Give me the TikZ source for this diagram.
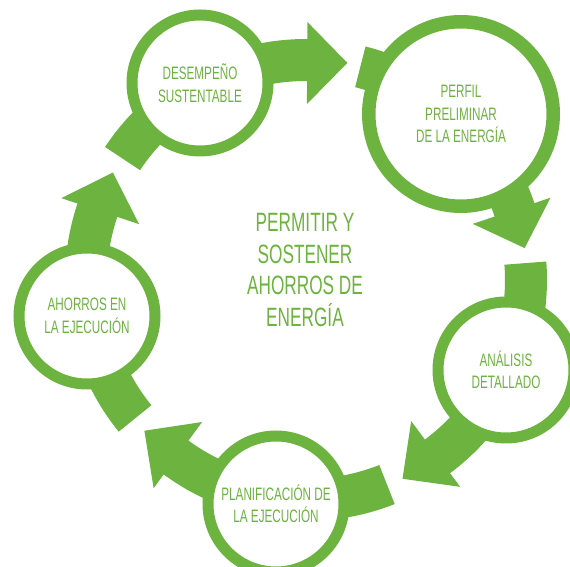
\documentclass[tikz,border=0pt]{standalone}
\usepackage{fontspec}
\setmainfont{Liberation Sans}[FakeStretch=0.65]
\usetikzlibrary{calc}
\definecolor{leafgreen}{RGB}{109,179,63}

\begin{document}
\begin{tikzpicture}[x=1pt, y=1pt]
    \tikzstyle{stage} = [circle, draw=leafgreen, fill=white, line width=11pt,
        minimum size=136pt, inner sep=0pt, text=leafgreen, align=center,
        font=\fontsize{18}{22.5}\selectfont]
    \tikzstyle{bigstage} = [stage, line width=13.5pt, minimum size=184.5pt]
    \tikzstyle{band} = [fill=leafgreen]

    \useasboundingbox (0, 0) rectangle (570, 567);
    \clip (0, 0) rectangle (570, 567);

    \coordinate (hub) at (306, 287);

    % Arrows round the hub ------------------------------
    \begin{scope}[shift={(hub)}]
        \fill[band] (146.5:241) arc[start angle=146.5, end angle=89.7, radius=241]
            -- (89.7:258) -- (79.2:221) -- (89.7:176) -- (89.7:199)
            arc[start angle=89.7, end angle=146.5, radius=199] -- cycle;
        \fill[band] (75.7:241) arc[start angle=75.7, end angle=18.6, radius=241]
            -- (18.6:258) -- (8.3:221) -- (18.6:176) -- (18.6:199)
            arc[start angle=18.6, end angle=75.7, radius=199] -- cycle;
        \fill[band] (4.4:241) arc[start angle=4.4, end angle=-53.3, radius=241]
            -- (-53.3:258) -- (-64.1:221) -- (-53.3:176) -- (-53.3:199)
            arc[start angle=-53.3, end angle=4.4, radius=199] -- cycle;
        \fill[band] (-68.4:241) arc[start angle=-68.4, end angle=-126.2, radius=241]
            -- (-126.2:258) -- (-137:221) -- (-126.2:176) -- (-126.2:199)
            arc[start angle=-126.2, end angle=-68.4, radius=199] -- cycle;
        \fill[band] (219:241) arc[start angle=219, end angle=161.5, radius=241]
            -- (161.5:258) -- (150.9:221) -- (161.5:176) -- (161.5:199)
            arc[start angle=161.5, end angle=219, radius=199] -- cycle;
    \end{scope}
    % ---------------------------------------------------

    % Stages
    \node (desempeno) at (200, 484) [stage] {DESEMPEÑO\\SUSTENTABLE};
    \node (perfil) at (461, 453) [bigstage] {PERFIL\\PRELIMINAR\\DE LA ENERGÍA};
    \node (analisis) at (506, 197) [stage] {ANÁLISIS\\DETALLADO};
    \node (planif) at (276, 63) [stage] {PLANIFICACIÓN DE\\LA EJECUCIÓN};
    \node (ahorros) at (87, 251) [stage] {AHORROS EN\\LA EJECUCIÓN};

    % Goal in the middle
    \node (goal) at ($(hub) + (-1, 10)$) [text=leafgreen, align=center,
        font=\fontsize{26.5}{31.5}\selectfont] {PERMITIR Y\\SOSTENER\\AHORROS DE\\ENERGÍA};
\end{tikzpicture}
\end{document}
